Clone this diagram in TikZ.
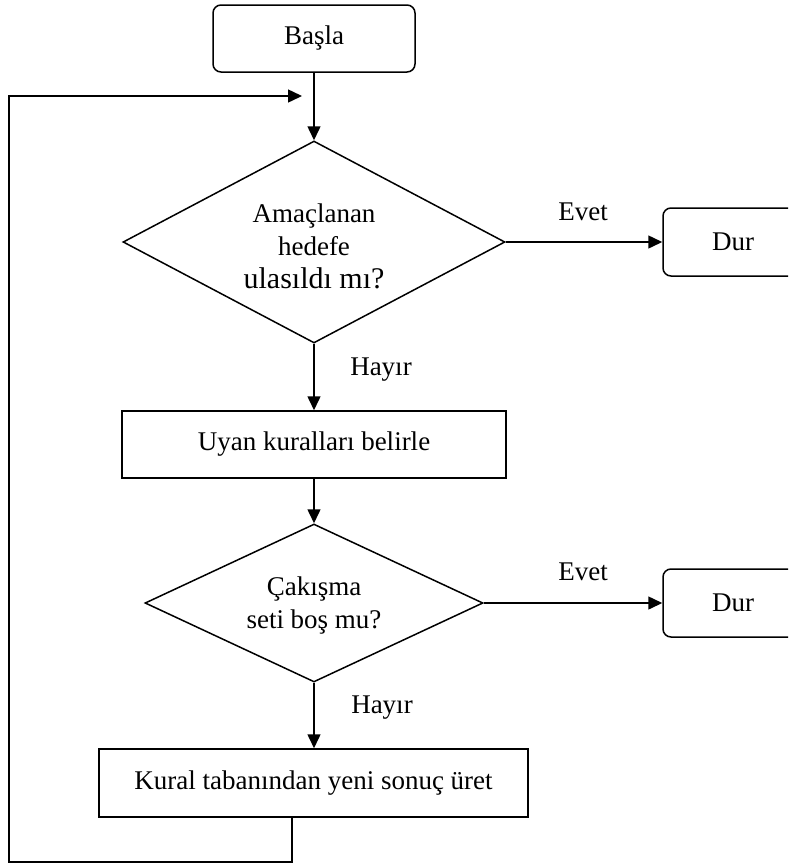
\documentclass[tikz,border=0pt]{standalone}
\usepackage{fontspec}
\setmainfont{Liberation Serif}
\usetikzlibrary{shapes.geometric,arrows.meta}
\begin{document}
\begin{tikzpicture}[x=1pt,y=-1pt, line width=1.5pt,
  font=\fontsize{27}{33}\selectfont,
  box/.style={draw, rectangle, inner sep=0pt, align=center},
  startbox/.style={box, rounded corners=8pt},
  decision/.style={draw, diamond, inner sep=0pt},
  flow/.style={-{Triangle[length=14pt,width=13pt]}},
  lbl/.style={inner sep=0pt, align=center}]
  \useasboundingbox (0,0) rectangle (788,865);
  \clip (0,0) rectangle (788,865);

  % main column
  \node[startbox, minimum width=202pt, minimum height=67pt] (basla) at (314,38.5) {Başla};
  \node[decision, minimum width=382pt, minimum height=202pt] (q1) at (314,242) {};
  \node[lbl] (q1t) at (314,246) {Amaçlanan\\hedefe\\{\fontsize{30}{33}\selectfont ulasıldı mı?}};
  \node[box, minimum width=384pt, minimum height=67pt] (rules) at (314,444.5) {Uyan kuralları belirle};
  \node[decision, minimum width=338pt, minimum height=158pt] (q2) at (314,603) {};
  \node[lbl] (q2t) at (314,605) {Çakışma\\seti boş mu?};
  \node[box, minimum width=429pt, minimum height=68pt] (gen) at (313.5,783) {Kural tabanından yeni sonuç üret};

  % stop boxes on the right
  \node[startbox, minimum width=140pt, minimum height=68pt] (stop1) at (733,242) {Dur};
  \node[startbox, minimum width=140pt, minimum height=68pt] (stop2) at (733,603) {Dur};

  % branch labels
  \node[lbl] (yes1) at (583,212) {Evet};
  \node[lbl] (no1) at (381,370) {Hayır};
  \node[lbl] (yes2) at (583,572) {Evet};
  \node[lbl] (no2) at (382,708) {Hayır};

  % connectors
  \draw[flow] (basla) -- (q1);
  \draw[flow] (q1.east) -- (stop1.west);
  \draw[flow] (q1.south) -- (rules.north);
  \draw[flow] (rules) -- (q2);
  \draw[flow] (q2.east) -- (stop2.west);
  \draw[flow] (q2.south) -- (q2.south |- gen.north);

  % loop back to the first decision
  \coordinate (ret) at (292,862);
  \coordinate (back) at (302,96);
  \draw[flow] (gen.south -| ret) -- (ret) -| (9,96) -- (back);
\end{tikzpicture}
\end{document}
